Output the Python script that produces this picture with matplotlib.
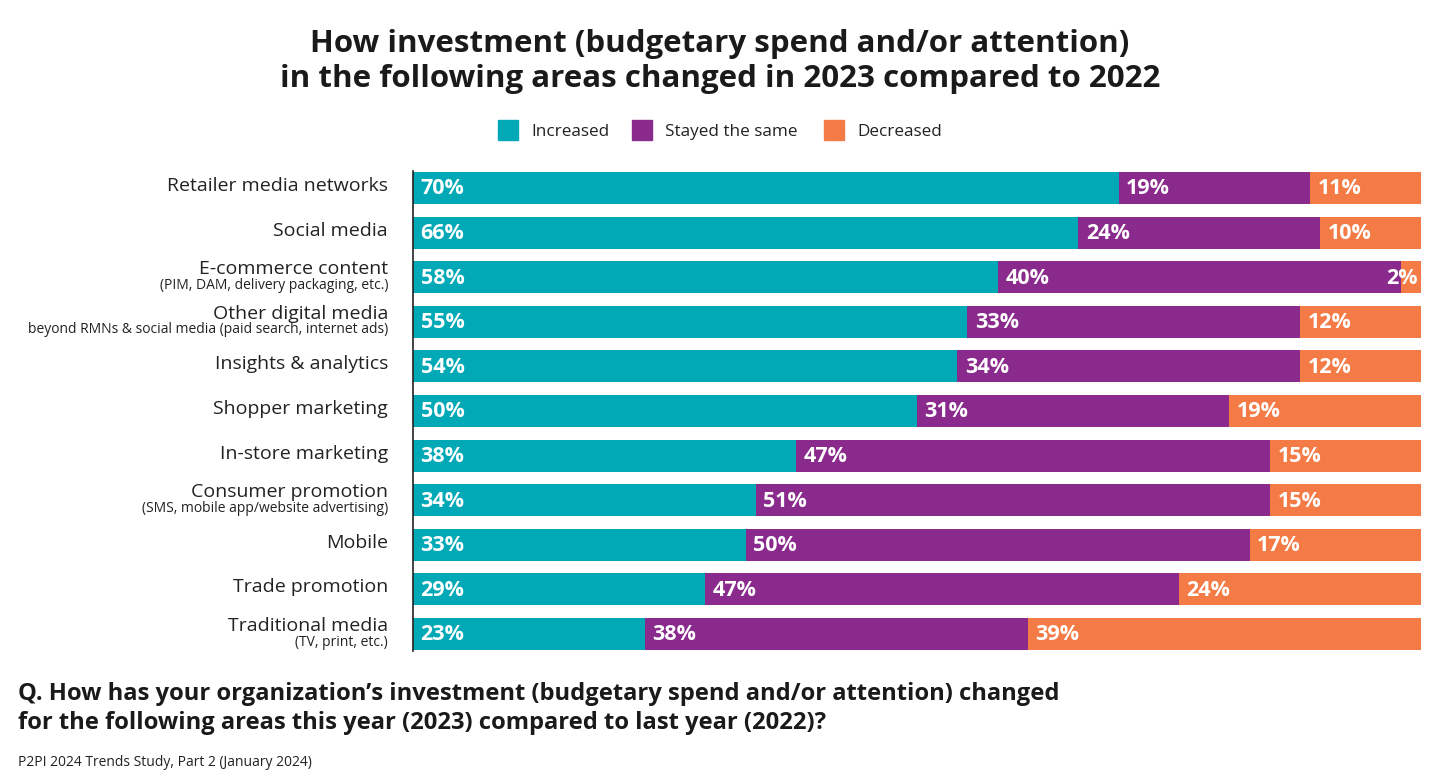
import matplotlib
matplotlib.use("Agg")
import matplotlib.pyplot as plt
from matplotlib.patches import Rectangle

categories = ["Retailer media networks", "Social media", "E-commerce content",
              "Other digital media", "Insights & analytics", "Shopper marketing",
              "In-store marketing", "Consumer promotion", "Mobile",
              "Trade promotion", "Traditional media"]
sublabels = ["", "", "(PIM, DAM, delivery packaging, etc.)",
             "beyond RMNs & social media (paid search, internet ads)", "", "", "",
             "(SMS, mobile app/website advertising)", "", "", "(TV, print, etc.)"]
increased = [70, 66, 58, 55, 54, 50, 38, 34, 33, 29, 23]
same = [19, 24, 40, 33, 34, 31, 47, 51, 50, 47, 38]
decreased = [11, 10, 2, 12, 12, 19, 15, 15, 17, 24, 39]
series_names = ["Increased", "Stayed the same", "Decreased"]
colors = ["#00A9B5", "#8A2A8C", "#F47B46"]

FONT = "Open Sans"
plt.rcParams["font.family"] = [FONT, "DejaVu Sans"]

W, H = 1440, 784
fig = plt.figure(figsize=(W / 100, H / 100), dpi=100)
ax = fig.add_axes([413 / W, 1 - 656.3 / H, (1421 - 413) / W, 490.6 / H])

n = len(categories)
ypos = list(range(n))
series = [increased, same, decreased]
lefts = [0] * n
for vals, col in zip(series, colors):
    ax.barh(ypos, vals, left=lefts, height=0.72, color=col, edgecolor="none")
    for i, (v, l) in enumerate(zip(vals, lefts)):
        if v < 5:
            ax.text(l + v - 0.3, i + 0.02, f"{v}%", ha="right", va="center",
                    color="white", fontsize=15.5, fontweight="bold")
        else:
            ax.text(l + 0.75, i + 0.02, f"{v}%", ha="left", va="center",
                    color="white", fontsize=15.5, fontweight="bold")
    lefts = [a + b for a, b in zip(lefts, vals)]

ax.set_xlim(0, 100)
ax.set_ylim(n - 0.5, -0.5)
ax.set_xticks([])
ax.set_yticks([])
for s in ["top", "right", "bottom"]:
    ax.spines[s].set_visible(False)
ax.spines["left"].set_linewidth(1.2)
ax.spines["left"].set_color("#222222")
ax.spines["left"].set_bounds(-0.38, n - 0.62)

# category labels
for i, (c, s) in enumerate(zip(categories, sublabels)):
    if s:
        ax.annotate(c, xy=(0, i), xycoords="data", xytext=(-25, 8),
                    textcoords="offset pixels", ha="right", va="center",
                    fontsize=14, color="#222222")
        ax.annotate(s, xy=(0, i), xycoords="data", xytext=(-25, -8),
                    textcoords="offset pixels", ha="right", va="center",
                    fontsize=10, color="#222222")
    else:
        ax.annotate(c, xy=(0, i), xycoords="data", xytext=(-25, 2),
                    textcoords="offset pixels", ha="right", va="center",
                    fontsize=14, color="#222222")

# title
fig.text(0.5, 1 - 44 / H, "How investment (budgetary spend and/or attention)",
         ha="center", va="center", fontsize=22.5, fontweight="bold", color="#1a1a1a")
fig.text(0.5, 1 - 79 / H, "in the following areas changed in 2023 compared to 2022",
         ha="center", va="center", fontsize=22.5, fontweight="bold", color="#1a1a1a")

# legend
leg_items = [(498, 531), (632, 665), (824, 857)]
for (sx, tx), name, col in zip(leg_items, series_names, colors):
    fig.patches.append(Rectangle((sx / W, 1 - 140 / H), 20 / W, 20 / H,
                                 transform=fig.transFigure, color=col))
    fig.text(tx / W, 1 - 132 / H, name, ha="left", va="center",
             fontsize=12.3, color="#222222")

# question
fig.text(18 / W, 1 - 694 / H,
         "Q. How has your organization\u2019s investment (budgetary spend and/or attention) changed",
         ha="left", va="center", fontsize=17.1, fontweight="bold", color="#1a1a1a")
fig.text(18 / W, 1 - 723 / H,
         "for the following areas this year (2023) compared to last year (2022)?",
         ha="left", va="center", fontsize=17.1, fontweight="bold", color="#1a1a1a")
fig.text(18 / W, 1 - 762 / H, "P2PI 2024 Trends Study, Part 2 (January 2024)",
         ha="left", va="center", fontsize=10, color="#222222")

fig.savefig("out.png", dpi=100, facecolor="white")
